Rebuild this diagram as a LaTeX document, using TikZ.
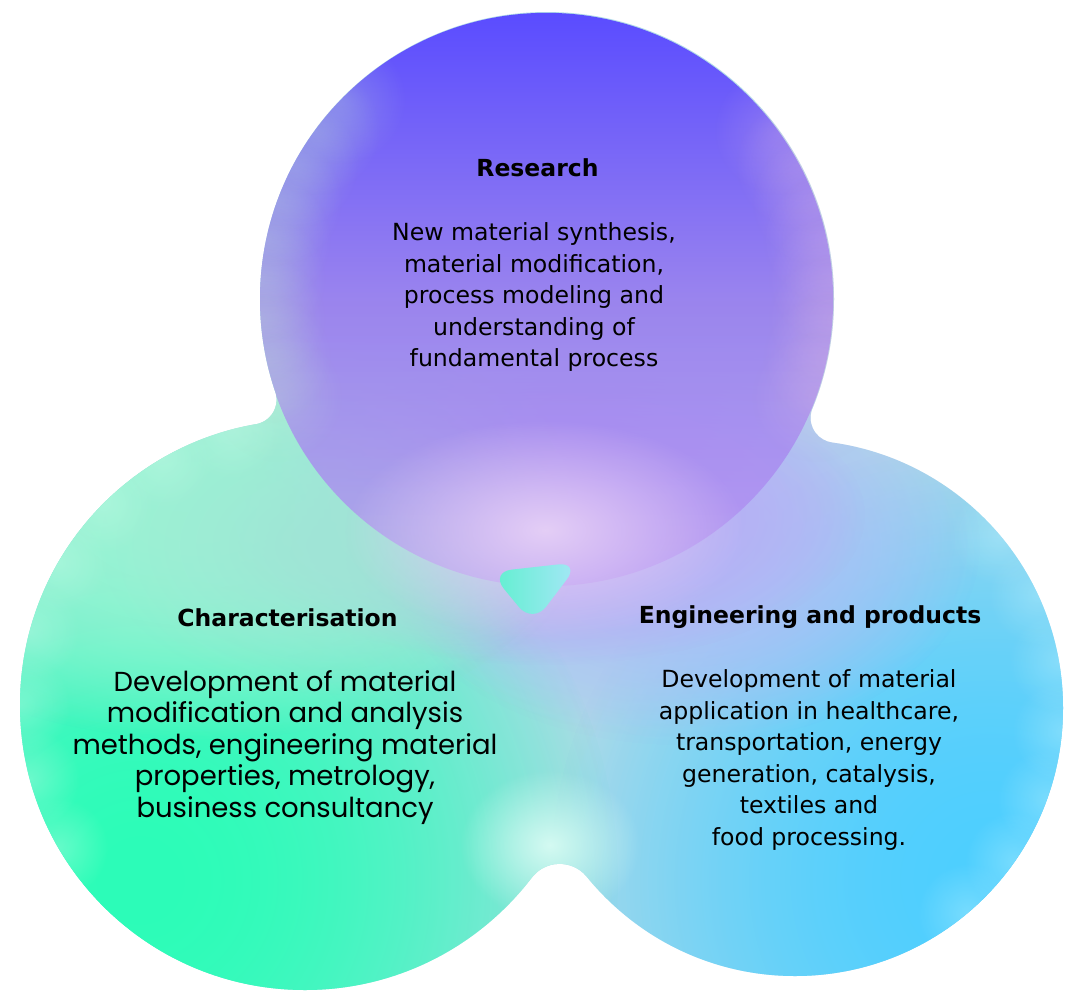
\documentclass[tikz,border=0pt]{standalone}
\usepackage{fontspec}
\setmainfont{DejaVu Sans}
\newfontfamily\roundfont{Poppins}
\usetikzlibrary{fadings,calc}

\definecolor{topblue}{HTML}{5A4CFF}
\definecolor{topmid}{HTML}{9A84EE}
\definecolor{toplav}{HTML}{B48EF2}
\definecolor{basetint}{HTML}{B0DAE8}
\definecolor{lowlav}{HTML}{C0A4F2}
\definecolor{deepgreen}{HTML}{2CFDB8}
\definecolor{palegreen}{HTML}{9CF4D4}
\definecolor{softteal}{HTML}{A0E4D6}
\definecolor{deepcyan}{HTML}{4ECFFF}
\definecolor{periwinkle}{HTML}{ADBEF8}
\definecolor{junctionpink}{HTML}{E4CEF6}
\definecolor{notchmint}{HTML}{D4FAF2}
\definecolor{edgemint}{HTML}{C4EAD4}
\definecolor{edgepink}{HTML}{E0BCE2}
\definecolor{rimcyan}{HTML}{C4F4FF}
\definecolor{rimmint}{HTML}{C8FCE8}
\definecolor{blobmint}{HTML}{5EF0CE}
\definecolor{blobwhite}{HTML}{B4F6E8}
\definecolor{blobsky}{HTML}{A8E6F8}

\tikzfading[name=softblob, inner color=transparent!0, outer color=transparent!100]
\begin{tikzfadingfrompicture}[name=topfade, x=100bp, y=-100bp]
\useasboundingbox (0,0) rectangle (1,1);
\clip (0,0) rectangle (1,1);
\fill[transparent!0] (0,0) rectangle (1,0.6);
\shade[top color=transparent!0, bottom color=transparent!100] (0,0.5) rectangle (1,1.2);
\end{tikzfadingfrompicture}

\tikzset{
  headtext/.style={font=\bfseries\fontsize{23.5}{28}\selectfont, inner sep=0pt, anchor=base},
  bodytext/.style={font=\fontsize{23.6}{31.5}\selectfont, align=center, inner sep=0pt, anchor=north},
  roundtext/.style={bodytext, font=\roundfont\fontsize{27.5}{31.5}\selectfont},
  blob/.style={path fading=softblob},
}

\begin{document}
\begin{tikzpicture}[x=1pt, y=-1pt]
\useasboundingbox (0,0) rectangle (1080,999);
\fill[white] (0,0) rectangle (1080,999);

\coordinate (cTop) at (547,299);
\coordinate (cLeft) at (305,705);
\coordinate (cRight) at (795,708);
\coordinate (tlA) at (275.36,391.62);
\coordinate (tlL) at (255.98,424.27);
\coordinate (trA) at (812.38,408.27);
\coordinate (trR) at (832.02,442.56);
\coordinate (btL) at (531.79,877.60);
\coordinate (btR) at (586.83,876.79);

\begin{scope}
\clip (cTop) ++(287,0) arc[start angle=0, end angle=360, radius=287]
      (cLeft) ++(285,0) arc[start angle=0, end angle=360, radius=285]
      (cRight) ++(268,0) arc[start angle=0, end angle=360, radius=268]
      (cLeft) -- (tlL) arc[start angle=80.1, end angle=-18.7, radius=25] -- (cTop) -- cycle
      (cTop) -- (trA) arc[start angle=202.4, end angle=98, radius=25] -- (cRight) -- cycle
      (cRight) -- (btR) arc[start angle=321, end angle=217.3, radius=35] -- (cLeft) -- cycle;
\fill[basetint] (0,0) rectangle (1080,999);
\foreach \k in {1,2} {
  \fill[deepgreen, blob] (140,880) ellipse[x radius=480, y radius=480];
  \fill[deepcyan, blob] (990,880) ellipse[x radius=440, y radius=440];
}
\foreach \k in {1,2} {
  \fill[periwinkle, blob] (680,545) ellipse[x radius=300, y radius=200];
  \fill[lowlav, blob] (545,515) ellipse[x radius=320, y radius=150];
  \fill[palegreen, blob] (200,510) ellipse[x radius=380, y radius=230];
}
\fill[softteal, blob] (340,545) ellipse[x radius=240, y radius=150];
\foreach \a in {-40,-25,...,50} {
  \fill[rimcyan, blob, opacity=0.35] ($(cRight)+(\a:268)$) circle[radius=50];
}
\foreach \a in {150,165,...,255} {
  \fill[rimmint, blob, opacity=0.35] ($(cLeft)+(\a:285)$) circle[radius=50];
}
\shade[top color=topblue, bottom color=toplav, middle color=topmid, path fading=topfade] (cTop) circle[radius=287];
\foreach \a in {160,168,...,228} {
  \fill[edgemint, blob, opacity=0.25] ($(cTop)+(\a:287)$) circle[radius=65];
}
\foreach \a in {-36,-28,...,20} {
  \fill[edgepink, blob, opacity=0.25] ($(cTop)+(\a:287)$) circle[radius=65];
}
\fill[junctionpink, blob] (545,530) ellipse[x radius=200, y radius=110];
\fill[notchmint, blob] (550,845) ellipse[x radius=90, y radius=75];
\end{scope}

\shade[left color=blobmint, middle color=blobwhite, right color=blobsky, rounded corners=22pt] (490,572) -- (580,562) -- (533,624) -- cycle;

\node[headtext] (resHead) at (537.5,176.7) {Research};
\node[bodytext] (resBody) at (534,222.5) {New material synthesis,\\material modification,\\process modeling and\\understanding of\\fundamental process};
\node[headtext] (charHead) at (287.5,626.7) {Characterisation};
\node[roundtext] (charBody) at (285,670) {Development of material\\modification and analysis\\methods, engineering material\\properties, metrology,\\business consultancy};
\node[headtext] (engHead) at (810,623) {Engineering and products};
\node[bodytext] (engBody) at (809,669.5) {Development of material\\application in healthcare,\\transportation, energy\\generation, catalysis,\\textiles and\\food processing.};
\end{tikzpicture}
\end{document}
